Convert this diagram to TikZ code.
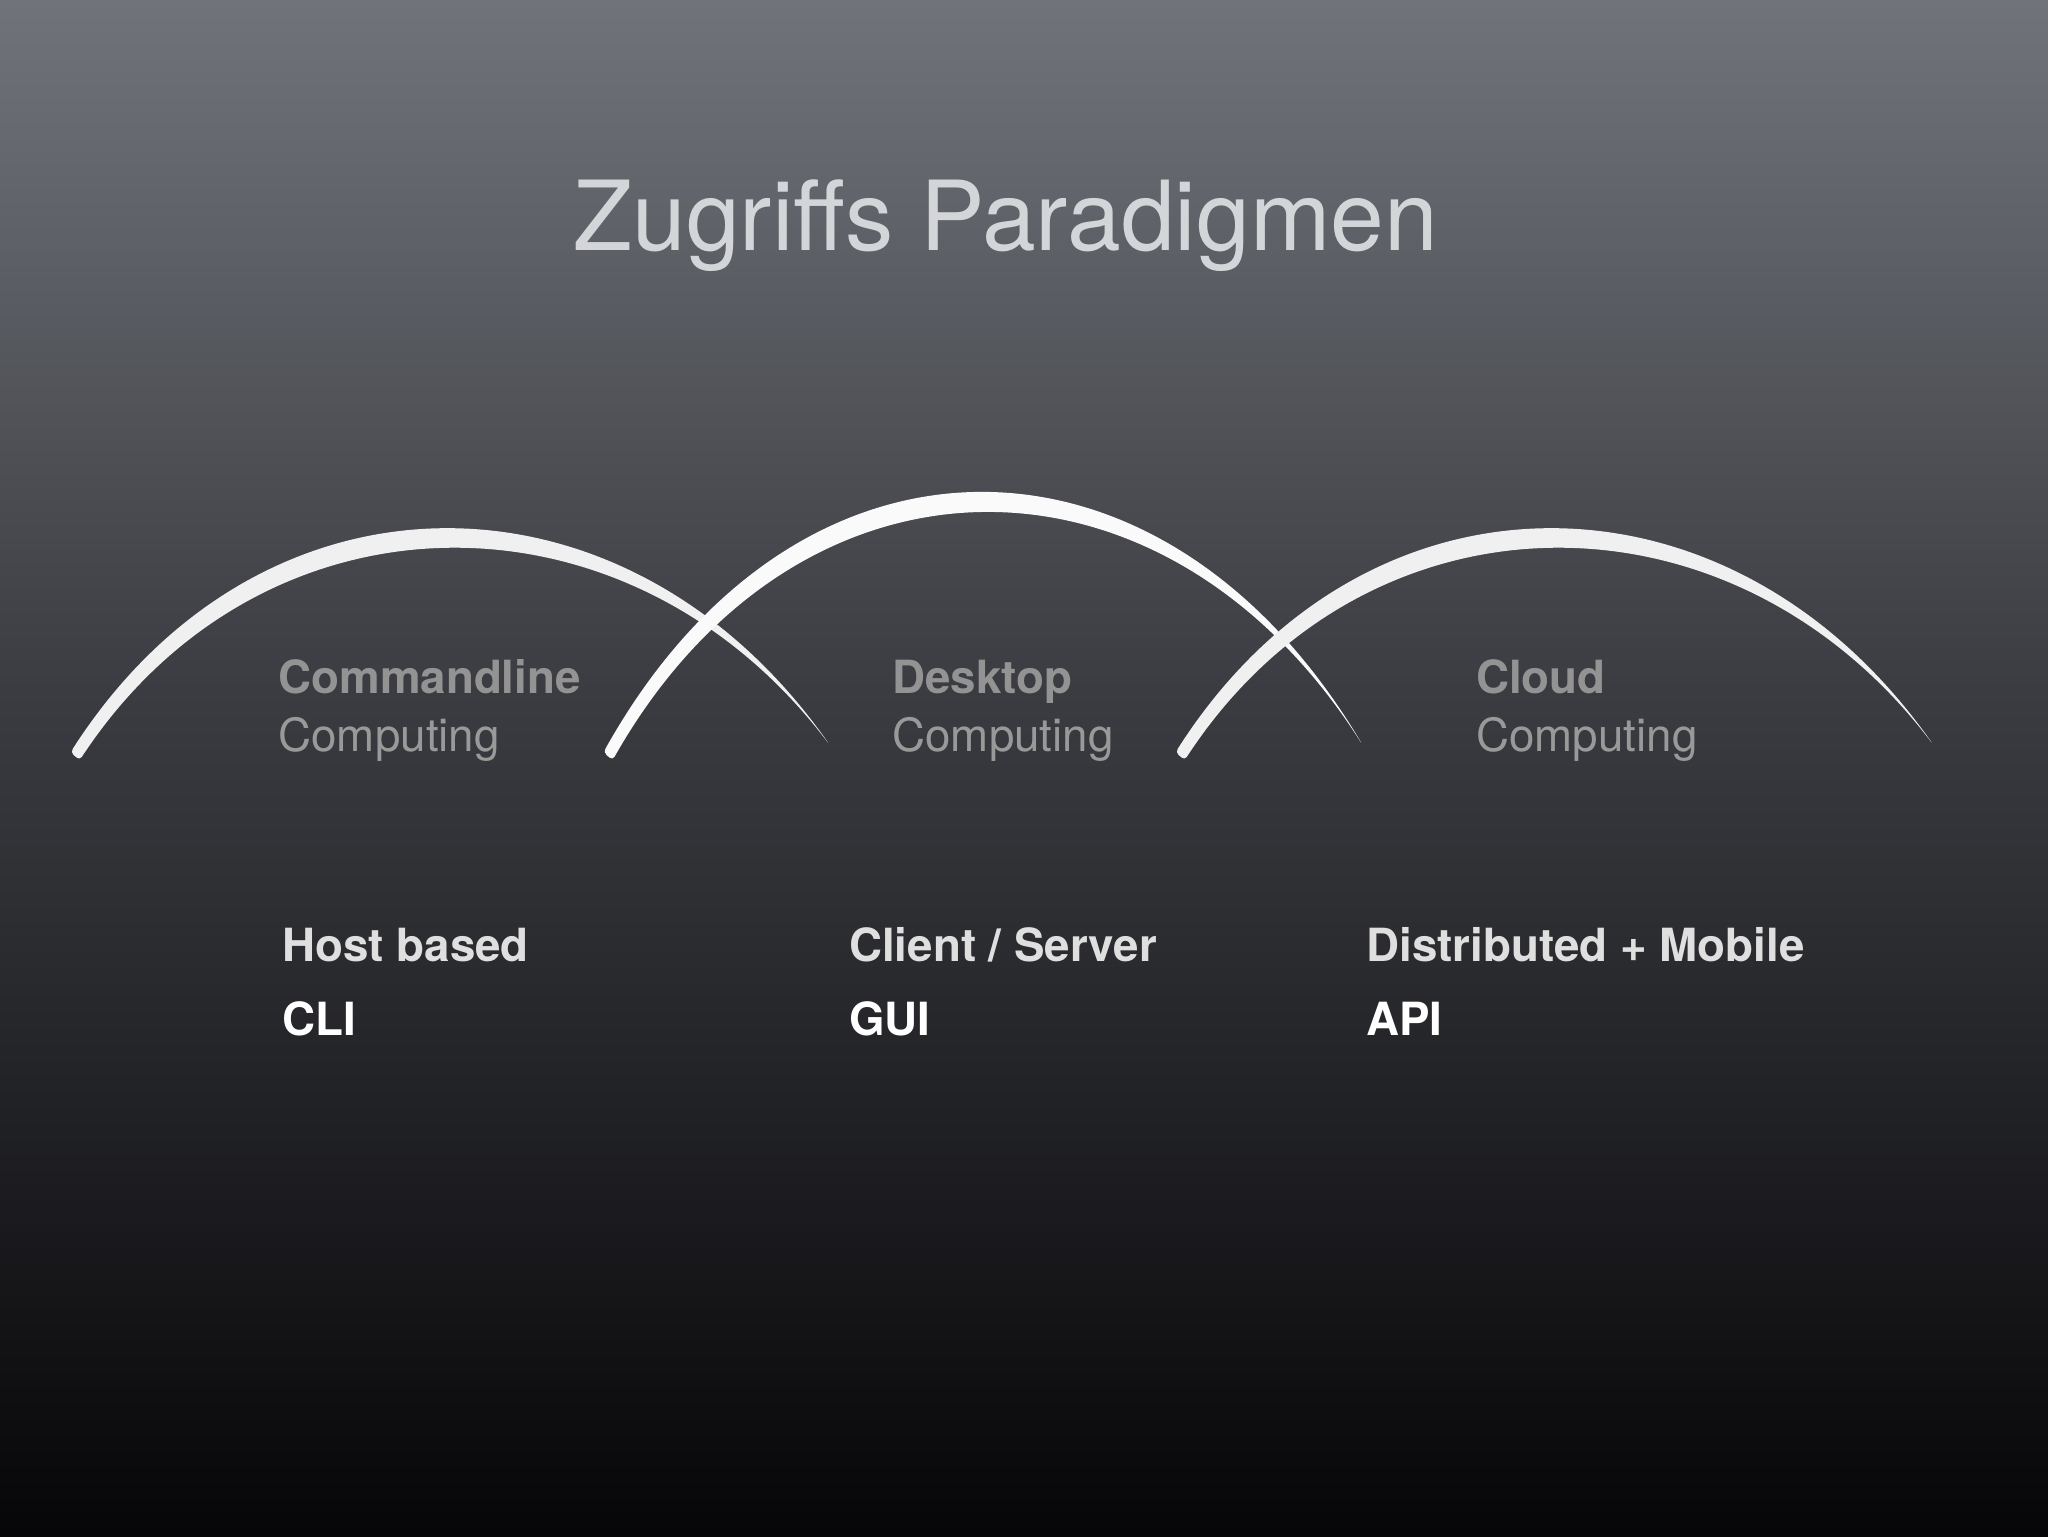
\documentclass[tikz,border=0pt]{standalone}
\usepackage{fontspec}
\setmainfont{TeX Gyre Heros}
\begin{document}
\begin{tikzpicture}[x=1pt,y=-1pt,
  lbl/.style={anchor=base west,inner sep=0pt},
  arcfill/.style={fill=white!88!gray,draw=none,rounded corners=3pt}]
\definecolor{topc}{RGB}{112,116,122}
\definecolor{midc}{RGB}{60,61,66}
\definecolor{botc}{RGB}{6,6,8}
\definecolor{titlec}{RGB}{212,213,216}
\useasboundingbox (0,0) rectangle (1568,1176);
\shade[top color=topc,bottom color=midc] (0,0) rectangle (1568,520);
\shade[top color=midc,bottom color=botc] (0,519) rectangle (1568,1176);
\node[lbl,anchor=base,text=titlec,font=\fontsize{74}{84}\selectfont] (title) at (770,192) {Zugriffs Paradigmen};
% arcs
\fill[arcfill] (54,576) .. controls (200,348) and (480,350) .. (635,570)
  .. controls (480,366) and (200,370) .. (61,582) -- cycle;
\fill[arcfill,fill=white!96!gray] (462,576) .. controls (610,311) and (890,313) .. (1043,570)
  .. controls (890,330) and (610,333) .. (469,582) -- cycle;
\fill[arcfill] (900,576) .. controls (1045,348) and (1325,350) .. (1480,570)
  .. controls (1325,366) and (1045,370) .. (907,582) -- cycle;
% labels
\begin{scope}[font=\fontsize{35}{40}\selectfont]
\node[lbl,text=gray!85!white,font=\fontsize{35}{40}\selectfont\bfseries] (c1) at (213,531) {Commandline};
\node[lbl,text=gray!80!white] (c2) at (213,575) {Computing};
\node[lbl,text=gray!85!white,font=\fontsize{35}{40}\selectfont\bfseries] (d1) at (683,531) {Desktop};
\node[lbl,text=gray!80!white] (d2) at (683,575) {Computing};
\node[lbl,text=gray!85!white,font=\fontsize{35}{40}\selectfont\bfseries] (e1) at (1130,531) {Cloud};
\node[lbl,text=gray!80!white] (e2) at (1130,575) {Computing};
\end{scope}
\begin{scope}[font=\fontsize{35}{40}\selectfont\bfseries]
\node[lbl,text=white!75!gray] (h1) at (216,736) {Host based};
\node[lbl,text=white] (h2) at (216,793) {CLI};
\node[lbl,text=white!75!gray] (g1) at (650,736) {Client / Server};
\node[lbl,text=white] (g2) at (650,793) {GUI};
\node[lbl,text=white!75!gray] (a1) at (1046,736) {Distributed + Mobile};
\node[lbl,text=white] (a2) at (1046,793) {API};
\end{scope}
\end{tikzpicture}
\end{document}
